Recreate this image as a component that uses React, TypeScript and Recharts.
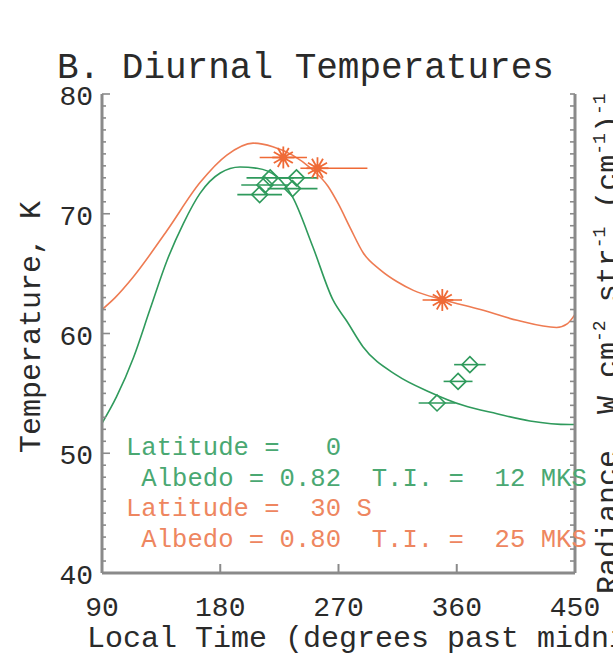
import React from "react";
import { ComposedChart, Line, Scatter, XAxis, YAxis, ErrorBar } from "recharts";

// ---- model curves (local time in degrees past midnight, temperature K)
const greenModelTime = [90, 101, 114, 126.5, 139.5, 152, 164.6, 180, 195, 208, 223, 235, 250.6, 265.8, 276.5, 288.6, 314.5, 339.6, 364.8, 390.6, 415.7, 446, 450];
const greenModelTemp = [52.5, 54.7, 58.0, 62.0, 66.1, 69.2, 71.7, 73.4, 73.9, 73.8, 73.1, 71.4, 67.2, 62.8, 61.0, 58.9, 56.5, 55.1, 54.0, 53.3, 52.7, 52.4, 52.4];

const orangeModelTime = [90, 100, 113.6, 139.5, 164.6, 185, 205, 220, 235, 250, 262, 270, 279, 289, 302, 315, 327, 350, 378, 406, 436, 444, 450];
const orangeModelTemp = [62.0, 63.0, 64.7, 68.6, 72.6, 74.9, 75.9, 75.6, 74.9, 73.7, 72.3, 70.8, 68.8, 66.7, 65.3, 64.3, 63.6, 62.8, 62.0, 61.1, 60.5, 60.8, 61.6];

// ---- observations
const greenObsTime = [210, 214, 218, 235, 238, 345, 361, 370];
const greenObsTemp = [71.6, 72.4, 73.0, 72.1, 73.0, 54.2, 56.0, 57.4];
const greenObsErr = [17, 18, 18, 19, 16, 14, 11, 12];

const orangeObsTime = [228, 254, 349];
const orangeObsTemp = [74.7, 73.8, 62.8];
const orangeObsErrLow = [18, 13, 15];
const orangeObsErrHigh = [18, 38, 15];

// ---- axes
const xTicks = [90, 180, 270, 360, 450];
const xInnerTicks = [180, 270, 360];
const yMajorTicks = [40, 50, 60, 70, 80];
const yAllTicks: number[] = [];
for (let v = 40; v <= 80; v++) yAllTicks.push(v);

const title = "B. Diurnal Temperatures";
const xTitle = "Local Time (degrees past midnight)";
const yTitle = "Temperature, K";
const legendLines = [
  { text: "Latitude =   0", series: "green" },
  { text: " Albedo = 0.82  T.I. =  12 MKS", series: "green" },
  { text: "Latitude =  30 S", series: "orange" },
  { text: " Albedo = 0.80  T.I. =  25 MKS", series: "orange" },
];

const GREEN = "#2f9a5c";
const GREEN_TEXT = "#4aa872";
const ORANGE = "#ef6a36";
const ORANGE_LINE = "#ee7b52";
const ORANGE_TEXT = "#ee8660";
const FRAME = "#8a8a8a";
const INK = "#2a2a2a";
const FONT = "'Liberation Mono', 'Courier New', monospace";

const greenModel = greenModelTime.map((t, i) => ({ t, T: greenModelTemp[i] }));
const orangeModel = orangeModelTime.map((t, i) => ({ t, T: orangeModelTemp[i] }));
const greenObs = greenObsTime.map((t, i) => ({ t, T: greenObsTemp[i], err: greenObsErr[i] }));
const orangeObs = orangeObsTime.map((t, i) => ({ t, T: orangeObsTemp[i], err: [orangeObsErrLow[i], orangeObsErrHigh[i]] }));

const BottomTick = (props: any) => {
  const { x, y, payload } = props;
  const v = payload.value;
  return (
    <g>
      {xInnerTicks.includes(v) && <line x1={x} x2={x} y1={y} y2={y - 9} stroke={FRAME} strokeWidth={2} />}
      <text x={x} y={y + 43} textAnchor="middle" fontFamily={FONT} fontSize={28} fill={INK}>{v}</text>
    </g>
  );
};

const TopTick = (props: any) => {
  const { x, y } = props;
  return <line x1={x} x2={x} y1={y} y2={y + 9} stroke={FRAME} strokeWidth={2} />;
};

const LeftTick = (props: any) => {
  const { x, y, payload } = props;
  const v = payload.value;
  const major = yMajorTicks.includes(v);
  return (
    <g>
      <line x1={x} x2={x + (major ? 8 : 4)} y1={y} y2={y} stroke={FRAME} strokeWidth={1.6} />
      {major && (
        <text x={x - 9} y={y + 11} textAnchor="end" fontFamily={FONT} fontSize={28} fill={INK}>{v}</text>
      )}
    </g>
  );
};

const RightTick = (props: any) => {
  const { x, y } = props;
  return <line x1={x} x2={x - 5} y1={y} y2={y} stroke={FRAME} strokeWidth={1.6} />;
};

const StarShape = (props: any) => {
  const { cx, cy } = props;
  const r = 11;
  const rays = [0, 30, 60, 90, 120, 150].map((a) => {
    const rad = (a * Math.PI) / 180;
    const dx = Math.cos(rad) * r;
    const dy = Math.sin(rad) * r;
    return <line key={a} x1={cx - dx} y1={cy - dy} x2={cx + dx} y2={cy + dy} stroke={ORANGE} strokeWidth={1.8} />;
  });
  return (
    <g>
      {rays}
      <circle cx={cx} cy={cy} r={4} fill={ORANGE} />
    </g>
  );
};

const DiamondShape = (props: any) => {
  const { cx, cy } = props;
  const s = 8;
  return (
    <polygon
      points={`${cx},${cy - s} ${cx + s},${cy} ${cx},${cy + s} ${cx - s},${cy}`}
      fill="none"
      stroke={GREEN}
      strokeWidth={1.6}
    />
  );
};

export default function App() {
  return (
    <div style={{ position: "absolute", left: 0, top: 0, width: 613, height: 658, background: "#fff", overflow: "hidden" }}>
      <ComposedChart width={613} height={658} margin={{ top: 94, right: 0, bottom: 0, left: 0 }}>
        <XAxis
          xAxisId="b"
          type="number"
          dataKey="t"
          domain={[90, 450]}
          ticks={xTicks}
          allowDataOverflow
          height={85}
          tickLine={false}
          tickSize={0}
          tickMargin={0}
          tick={<BottomTick />}
          axisLine={{ stroke: FRAME, strokeWidth: 3 }}
          interval={0}
        />
        <XAxis
          xAxisId="top"
          orientation="top"
          type="number"
          dataKey="t"
          domain={[90, 450]}
          ticks={xInnerTicks}
          allowDataOverflow
          height={0}
          tickLine={false}
          tickSize={0}
          tickMargin={0}
          tick={<TopTick />}
          axisLine={{ stroke: FRAME, strokeWidth: 3 }}
          interval={0}
        />
        <YAxis
          yAxisId="l"
          type="number"
          domain={[40, 80]}
          ticks={yAllTicks}
          allowDataOverflow
          width={102}
          tickLine={false}
          tickSize={0}
          tickMargin={0}
          tick={<LeftTick />}
          axisLine={{ stroke: FRAME, strokeWidth: 3 }}
          interval={0}
        />
        <YAxis
          yAxisId="r"
          orientation="right"
          type="number"
          domain={[40, 80]}
          ticks={yAllTicks}
          allowDataOverflow
          width={38}
          tickLine={false}
          tickSize={0}
          tickMargin={0}
          tick={<RightTick />}
          axisLine={{ stroke: FRAME, strokeWidth: 3 }}
          interval={0}
        />
        <Line
          xAxisId="b"
          yAxisId="l"
          data={greenModel}
          dataKey="T"
          type="monotone"
          dot={false}
          stroke={GREEN}
          strokeWidth={1.6}
          isAnimationActive={false}
        />
        <Line
          xAxisId="b"
          yAxisId="l"
          data={orangeModel}
          dataKey="T"
          type="monotone"
          dot={false}
          stroke={ORANGE_LINE}
          strokeWidth={1.6}
          isAnimationActive={false}
        />
        <Scatter xAxisId="b" yAxisId="l" data={greenObs} dataKey="T" shape={<DiamondShape />} isAnimationActive={false}>
          <ErrorBar dataKey="err" direction="x" width={0} stroke={GREEN} strokeWidth={1.6} />
        </Scatter>
        <Scatter xAxisId="b" yAxisId="l" data={orangeObs} dataKey="T" shape={<StarShape />} isAnimationActive={false}>
          <ErrorBar dataKey="err" direction="x" width={0} stroke={ORANGE} strokeWidth={1.6} />
        </Scatter>
      </ComposedChart>
      <svg width={613} height={658} style={{ position: "absolute", left: 0, top: 0, pointerEvents: "none" }}>
        <text x={57} y={78} fontFamily={FONT} fontSize={36} fill={INK}>{title}</text>
        <text x={40} y={327} transform="rotate(-90 40 327)" textAnchor="middle" fontFamily={FONT} fontSize={30} fill={INK}>{yTitle}</text>
        <text x={87} y={647} fontFamily={FONT} fontSize={30} fill={INK}>{xTitle}</text>
        {legendLines.map((l, i) => (
          <text
            key={i}
            x={126}
            y={455 + i * 30.5}
            fontFamily={FONT}
            fontSize={25.6}
            fill={l.series === "green" ? GREEN_TEXT : ORANGE_TEXT}
            style={{ whiteSpace: "pre" }}
          >
            {l.text}
          </text>
        ))}
        <text x={617} y={594} transform="rotate(-90 617 594)" fontFamily={FONT} fontSize={30} fill={INK} style={{ whiteSpace: "pre" }}>
          {"Radiance  W cm"}
          <tspan fontSize={18} dy={-12}>{"-2"}</tspan>
          <tspan dy={12}>{" str"}</tspan>
          <tspan fontSize={18} dy={-12}>{"-1"}</tspan>
          <tspan dy={12}>{" (cm"}</tspan>
          <tspan fontSize={18} dy={-12}>{"-1"}</tspan>
          <tspan dy={12}>{")"}</tspan>
          <tspan fontSize={18} dy={-12}>{"-1"}</tspan>
        </text>
      </svg>
    </div>
  );
}
